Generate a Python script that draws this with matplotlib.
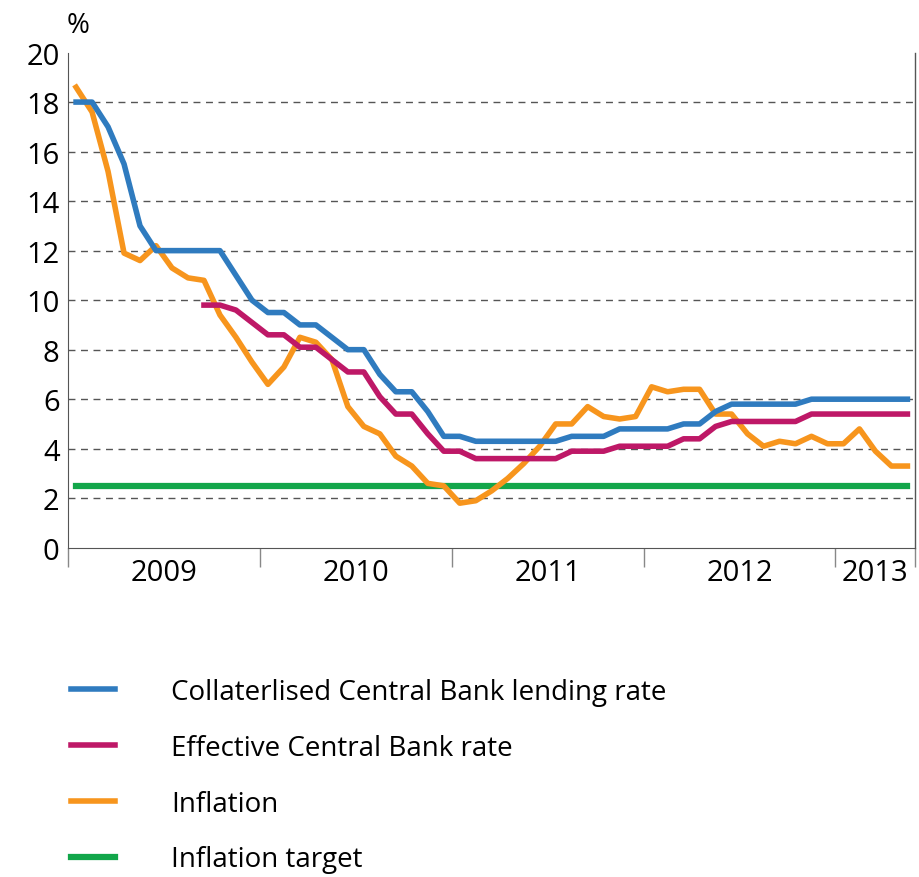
import matplotlib
matplotlib.use("Agg")
import matplotlib.pyplot as plt
import numpy as np

plt.rcParams['font.family'] = ['Open Sans', 'DejaVu Sans']

years = ["2009", "2010", "2011", "2012", "2013"]
year_months = [12, 12, 12, 12, 5]

collateral = [18, 18, 17, 15.5, 13, 12, 12, 12, 12, 12, 11, 10, 9.5, 9.5, 9, 9, 8.5, 8, 8, 7,
              6.3, 6.3, 5.5, 4.5, 4.5, 4.3, 4.3, 4.3, 4.3, 4.3, 4.3, 4.5, 4.5, 4.5, 4.8, 4.8, 4.8, 4.8,
              5.0, 5.0, 5.5, 5.8, 5.8, 5.8, 5.8, 5.8, 6.0, 6.0, 6.0, 6.0, 6.0, 6.0, 6.0]
effective = [np.nan] * 8 + [9.8, 9.8, 9.6, 9.1, 8.6, 8.6, 8.1, 8.1, 7.6, 7.1, 7.1, 6.1, 5.4, 5.4,
             4.6, 3.9, 3.9, 3.6, 3.6, 3.6, 3.6, 3.6, 3.6, 3.9, 3.9, 3.9, 4.1, 4.1, 4.1, 4.1, 4.4,
             4.4, 4.9, 5.1, 5.1, 5.1, 5.1, 5.1, 5.4, 5.4, 5.4, 5.4, 5.4, 5.4, 5.4]
inflation = [18.6, 17.6, 15.2, 11.9, 11.6, 12.2, 11.3, 10.9, 10.8, 9.4, 8.5, 7.5, 6.6, 7.3, 8.5,
             8.3, 7.6, 5.7, 4.9, 4.6, 3.7, 3.3, 2.6, 2.5, 1.8, 1.9, 2.3, 2.8, 3.4, 4.1, 5.0, 5.0,
             5.7, 5.3, 5.2, 5.3, 6.5, 6.3, 6.4, 6.4, 5.4, 5.4, 4.6, 4.1, 4.3, 4.2, 4.5, 4.2, 4.2,
             4.8, 3.9, 3.3, 3.3]
target = [2.5] * len(inflation)

x = np.arange(len(inflation)) + 0.5

fig = plt.figure(figsize=(9.2, 8.78), dpi=100)
ax = fig.add_axes([0.074, 0.375, 0.921, 0.564])

ax.plot(x, target, color="#12a64a", lw=4.5, label="Inflation target", zorder=2)
ax.plot(x, inflation, color="#f7951d", lw=4, label="Inflation", zorder=3)
ax.plot(x, effective, color="#be1867", lw=4, label="Effective Central Bank rate", zorder=4)
ax.plot(x, collateral, color="#2f7bbf", lw=4, label="Collaterlised Central Bank lending rate", zorder=5)

ax.set_ylim(0, 20)
ax.set_xlim(0, len(inflation))
ax.set_yticks(range(0, 21, 2))
ax.tick_params(axis="y", length=0, labelsize=21, pad=6)
for y in range(2, 20, 2):
    ax.axhline(y, color="#555555", lw=1, ls=(0, (5, 4)), zorder=1)

edges = np.concatenate([[0], np.cumsum(year_months)])
ax.set_xticks(edges)
ax.set_xticklabels([])
ax.tick_params(axis="x", length=14, width=1, color="#888888", direction="out")
for i, yr in enumerate(years):
    ax.text((edges[i] + edges[i + 1]) / 2, -0.4, yr, ha="center", va="top", fontsize=21)

for s in ["top", "right"]:
    ax.spines[s].set_visible(False)
ax.spines["left"].set_color("#555555")
ax.spines["bottom"].set_color("#555555")
ax.plot([1, 1], [0, 1], transform=ax.transAxes, color="#555555", lw=1, clip_on=False)

fig.text(0.072, 0.955, "%", fontsize=20, va="bottom")

handles, labels = ax.get_legend_handles_labels()
order = [3, 2, 1, 0]
fig.legend([handles[i] for i in order], [labels[i] for i in order],
           loc="upper left", bbox_to_anchor=(0.05, 0.255), frameon=False,
           fontsize=20, handlelength=1.6, handletextpad=2.0, labelspacing=1.0)

fig.savefig("out.png", dpi=100)
